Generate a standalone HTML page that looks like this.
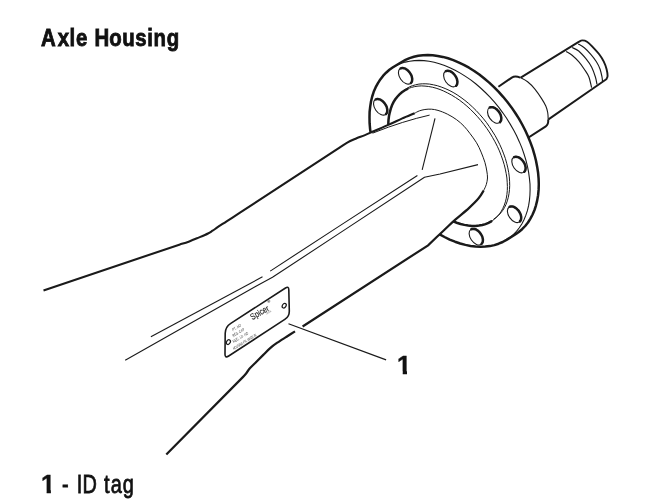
<!DOCTYPE html>
<html lang="en"><head><meta charset="utf-8"><title>Axle Housing</title>
<style>
html,body{margin:0;padding:0;background:#fff;}
body{width:647px;height:504px;overflow:hidden;position:relative;}
svg{display:block;position:absolute;left:0;top:0;will-change:transform;}
text{font-family:"Liberation Sans",sans-serif;font-kerning:none;}
.t{fill:#111;}
</style></head><body>
<svg width="647" height="504" viewBox="0 0 647 504">
<rect width="647" height="504" fill="#fff"/>
<path d="M520.7 77.6L578.7 41.9C579.3 41.6 581.0 40.4 582.4 40.4C583.8 40.4 585.3 40.6 587.0 41.7C588.7 42.8 590.6 44.7 592.6 46.8C594.6 48.9 597.3 51.8 599.2 54.3C601.1 56.8 602.6 59.2 603.8 61.7C605.0 64.2 606.0 66.8 606.6 69.2C607.2 71.6 607.7 74.3 607.6 76.0C607.5 77.7 606.5 78.8 606.3 79.3L548.1 119.6" fill="none" stroke="#1a1a1a" stroke-width="1.90" stroke-linejoin="round"/>
<path d="M566.1 51.5C567.1 52.1 570.0 53.5 572.1 55.2C574.2 56.9 576.7 59.4 578.7 61.7C580.7 64.0 582.6 66.7 584.3 69.2C586.0 71.8 587.7 73.9 588.9 77.0C590.1 80.1 591.1 85.8 591.6 87.6" fill="none" stroke="#1a1a1a" stroke-width="1.15" />
<path d="M572.1 47.5C573.2 48.1 576.4 49.1 578.7 51.0C581.0 52.9 583.9 56.2 586.1 58.9C588.3 61.6 590.2 64.3 591.7 67.3C593.2 70.3 594.5 74.2 595.4 77.0C596.3 79.8 596.7 83.2 597.0 84.4" fill="none" stroke="#1a1a1a" stroke-width="1.15" />
<path d="M578.2 44.0C579.2 44.6 582.2 46.0 584.3 47.7C586.4 49.4 588.8 52.0 590.8 54.3C592.8 56.6 594.8 59.2 596.4 61.7C598.0 64.2 599.2 66.7 600.1 69.2C601.0 71.8 601.6 75.0 602.0 77.0C602.4 79.0 602.4 80.5 602.5 81.2" fill="none" stroke="#1a1a1a" stroke-width="1.15" />
<path d="M490 92.6L511.8 77.6Q515.1 75.6 520.2 77.6L520.2 77.6C521.4 78.3 525.1 79.8 527.6 81.8C530.1 83.8 532.8 86.5 535.1 89.3C537.4 92.1 539.8 95.8 541.6 98.6C543.4 101.4 544.8 103.7 545.8 106.0C546.8 108.3 547.3 110.3 547.7 112.5C548.1 114.7 548.1 118.2 548.2 119.4L548.2 119.4Q548.6 124.6 545.8 126.3L520 143Z" fill="#fff" stroke="none" stroke-width="0.00" />
<path d="M520.2 77.6C521.4 78.3 525.1 79.8 527.6 81.8C530.1 83.8 532.8 86.5 535.1 89.3C537.4 92.1 539.8 95.8 541.6 98.6C543.4 101.4 544.8 103.7 545.8 106.0C546.8 108.3 547.3 110.3 547.7 112.5C548.1 114.7 548.1 118.2 548.2 119.4" fill="none" stroke="#1a1a1a" stroke-width="1.10" />
<path d="M498.4 86.8L511.8 77.6Q515.1 75.6 520.2 77.6" fill="none" stroke="#1a1a1a" stroke-width="2.00" stroke-linejoin="round"/>
<path d="M548.2 119.4Q548.6 124.6 545.8 126.3L520 143" fill="none" stroke="#1a1a1a" stroke-width="2.00" stroke-linejoin="round"/>
<path d="M401.7 62.0L405.5 59.9L409.6 58.1L413.9 56.8L418.3 55.8L423.0 55.2L427.8 55.0L432.7 55.3L437.7 55.9L442.8 56.9L448.0 58.3L453.3 60.1L458.5 62.3L463.8 64.8L469.0 67.7L474.2 71.0L479.3 74.6L484.3 78.5L489.2 82.6L494.0 87.1L498.7 91.9L503.1 96.8L507.4 102.0L511.5 107.4L515.3 113.0L518.9 118.7L522.2 124.5L525.3 130.5L528.0 136.5L530.5 142.6L532.7 148.7L534.5 154.8L536.0 160.8L537.2 166.9L538.1 172.8L538.6 178.6L538.8 184.3L538.6 189.9L538.1 195.2L537.2 200.4L536.0 205.3L534.5 210.0L532.6 214.5L530.4 218.6L528.0 222.5L525.2 226.0L522.1 229.2L518.8 232.0L515.2 234.5L506.5 239.9L502.7 242.0L498.6 243.7L494.4 245.1L489.9 246.1L485.3 246.6L480.5 246.8L475.5 246.6L470.5 246.0L465.4 244.9L460.2 243.5L455.0 241.7L449.7 239.6L444.5 237.0L439.2 234.1L434.0 230.9L428.9 227.3L423.9 223.4L419.0 219.2L414.2 214.7L409.6 210.0L405.1 205.0L400.8 199.8L396.8 194.4L392.9 188.9L389.3 183.2L386.0 177.3L383.0 171.4L380.2 165.4L377.7 159.3L375.5 153.2L373.7 147.1L372.2 141.0L371.0 135.0L370.1 129.1L369.6 123.2L369.5 117.5L369.6 112.0L370.2 106.6L371.0 101.5L372.2 96.5L373.7 91.8L375.6 87.4L377.8 83.3L380.3 79.4L383.0 75.9L386.1 72.7L389.4 69.8L393.0 67.3Z" fill="#fff" stroke="#1a1a1a" stroke-width="2.50" stroke-linejoin="round"/>
<path d="M393.0 67.3L396.9 65.2L400.9 63.5L405.2 62.1L409.7 61.2L414.3 60.6L419.1 60.4L424.0 60.6L429.1 61.3L434.2 62.3L439.4 63.7L444.6 65.5L449.9 67.7L455.1 70.2L460.3 73.1L465.5 76.4L470.7 79.9L475.7 83.8L480.6 88.0L485.4 92.5L490.0 97.2L494.5 102.2L498.8 107.4L502.8 112.8L506.6 118.3L510.2 124.1L513.6 129.9L516.6 135.8L519.4 141.9L521.9 147.9L524.0 154.0L525.9 160.1L527.4 166.2L528.6 172.2L529.4 178.1L530.0 184.0L530.1 189.7L529.9 195.2L529.4 200.6L528.6 205.7L527.4 210.7L525.8 215.4L524.0 219.8L521.8 224.0L519.3 227.8L516.5 231.3L513.5 234.5L510.1 237.4L506.5 239.9" fill="none" stroke="#1a1a1a" stroke-width="1.10" />
<path d="M492.7 220.5L490.0 222.1L487.2 223.5L484.2 224.5L481.0 225.3L477.7 225.8L474.3 226.0L470.7 225.8L467.1 225.4L463.4 224.7L459.6 223.7L455.7 222.4L451.9 220.8L448.0 218.9L444.1 216.8L440.2 214.4L436.3 211.8L432.5 208.9L428.8 205.8L425.2 202.5L421.6 198.9L418.2 195.2L414.9 191.4L411.7 187.3L408.7 183.2L405.8 178.9L403.2 174.5L400.7 170.1L398.4 165.6L396.3 161.0L394.5 156.4L392.9 151.8L391.5 147.3L390.4 142.8L389.5 138.3L388.8 133.9L388.5 129.6L388.3 125.4L388.4 121.4L388.8 117.4L389.4 113.7L390.3 110.1L391.4 106.8L392.8 103.6L394.4 100.7L396.2 98.0L398.3 95.6L400.6 93.4L403.0 91.4L405.7 89.8L408.5 88.4L411.5 87.4L414.7 86.6L418.0 86.1L421.4 85.9L425.0 86.1L428.6 86.5L432.3 87.2L436.1 88.2L440.0 89.5L443.8 91.1L447.7 93.0L451.6 95.1L455.5 97.5L459.4 100.1L463.2 103.0L466.9 106.1L470.5 109.4L474.1 113.0L477.5 116.7L480.8 120.5L484.0 124.6L487.0 128.7L489.9 133.0L492.5 137.4L495.0 141.8L497.3 146.3L499.4 150.9L501.2 155.5L502.8 160.1L504.2 164.6L505.3 169.1L506.2 173.6L506.9 178.0L507.2 182.3L507.4 186.5L507.3 190.5L506.9 194.5L506.3 198.2L505.4 201.8L504.3 205.1L502.9 208.3L501.3 211.2L499.5 213.9L497.4 216.3L495.1 218.5L492.7 220.5" fill="none" stroke="#1a1a1a" stroke-width="1.00" />
<path d="M404.0 90.3L406.6 88.5L409.4 86.9L412.4 85.7L415.6 84.8L418.9 84.1L422.4 83.8L425.9 83.8L429.6 84.1L433.4 84.8L437.3 85.7L441.2 87.0L445.1 88.5L449.1 90.3L453.1 92.4L457.1 94.8L461.0 97.5L464.9 100.4L468.7 103.5L472.4 106.9L476.1 110.5L479.6 114.3L483.0 118.2L486.3 122.3L489.3 126.6L492.2 131.0L495.0 135.4L497.5 140.0L499.8 144.6L501.9 149.3L503.7 153.9L505.4 158.6L506.7 163.3L507.8 167.9L508.7 172.5L509.3 176.9L509.6 181.3L509.7 185.5L509.5 189.6L509.0 193.6L508.3 197.3L507.3 200.9L506.1 204.3L504.6 207.4L502.8 210.3L500.8 212.9L498.6 215.3L496.2 217.4L493.6 219.2" fill="none" stroke="#1a1a1a" stroke-width="1.00" />
<path d="M491.3 221.4L488.5 222.9L485.5 224.1L482.3 225.0L479.0 225.6L475.5 225.9L471.9 225.9L468.2 225.6L464.4 224.9L460.6 224.0L456.7 222.7L452.7 221.2L448.7 219.3L444.8 217.2L440.8 214.8L436.9 212.1L433.0 209.2L429.1 206.1L425.4 202.7L421.8 199.1L418.3 195.3L414.9 191.4L411.6 187.2L408.6 183.0L405.6 178.6L402.9 174.1L400.4 169.6L398.1 164.9L396.0 160.3L394.2 155.6L392.6 150.9L391.2 146.3L390.1 141.7L389.3 137.1L388.7 132.6L388.4 128.3L388.3 124.0L388.5 119.9L389.0 116.0L389.8 112.3L390.8 108.7L392.0 105.3L393.5 102.2L395.3 99.3L397.3 96.7L399.5 94.4L401.9 92.3L404.5 90.5L407.4 89.0" fill="none" stroke="#1a1a1a" stroke-width="2.50" stroke-linecap="round"/>
<ellipse cx="405.4" cy="76.0" rx="9.1" ry="5.7" transform="rotate(55.20 405.4 76.0)" fill="#fff" stroke="#1a1a1a" stroke-width="1.1"/>
<path d="M400.7 68.4L401.4 68.2L402.1 68.1L402.8 68.1L403.6 68.2L404.5 68.4L405.3 68.7L406.1 69.2L407.0 69.8L407.8 70.4L408.5 71.2L409.3 72.0L409.9 72.9L410.5 73.8L411.0 74.7L411.5 75.7L411.8 76.7L412.0 77.7L412.2 78.6L412.2 79.5L412.1 80.4L412.0 81.2L411.7 81.9L411.3 82.5L410.9 83.0" fill="none" stroke="#1a1a1a" stroke-width="2.50" stroke-linecap="round"/>
<ellipse cx="380.5" cy="107.0" rx="9.1" ry="5.7" transform="rotate(55.20 380.5 107.0)" fill="#fff" stroke="#1a1a1a" stroke-width="1.1"/>
<path d="M375.8 99.4L376.5 99.2L377.2 99.1L377.9 99.1L378.7 99.2L379.6 99.4L380.4 99.7L381.2 100.2L382.1 100.8L382.9 101.4L383.6 102.2L384.4 103.0L385.0 103.9L385.6 104.8L386.1 105.7L386.6 106.7L386.9 107.7L387.1 108.7L387.3 109.6L387.3 110.5L387.2 111.4L387.1 112.2L386.8 112.9L386.4 113.5L386.0 114.0" fill="none" stroke="#1a1a1a" stroke-width="2.50" stroke-linecap="round"/>
<ellipse cx="450.6" cy="78.7" rx="9.1" ry="5.7" transform="rotate(55.20 450.6 78.7)" fill="#fff" stroke="#1a1a1a" stroke-width="1.1"/>
<path d="M445.9 71.1L446.6 70.9L447.3 70.8L448.0 70.8L448.8 70.9L449.7 71.1L450.5 71.4L451.3 71.9L452.2 72.5L453.0 73.1L453.7 73.9L454.5 74.7L455.1 75.6L455.7 76.5L456.2 77.4L456.7 78.4L457.0 79.4L457.2 80.4L457.4 81.3L457.4 82.2L457.3 83.1L457.2 83.9L456.9 84.6L456.5 85.2L456.1 85.7" fill="none" stroke="#1a1a1a" stroke-width="2.50" stroke-linecap="round"/>
<ellipse cx="494.5" cy="115.1" rx="9.1" ry="5.7" transform="rotate(55.20 494.5 115.1)" fill="#fff" stroke="#1a1a1a" stroke-width="1.1"/>
<path d="M489.8 107.5L490.5 107.3L491.2 107.2L491.9 107.2L492.7 107.3L493.6 107.5L494.4 107.8L495.2 108.3L496.1 108.9L496.9 109.5L497.6 110.3L498.4 111.1L499.0 112.0L499.6 112.9L500.1 113.8L500.6 114.8L500.9 115.8L501.1 116.8L501.3 117.7L501.3 118.6L501.2 119.5L501.1 120.3L500.8 121.0L500.4 121.6L500.0 122.1" fill="none" stroke="#1a1a1a" stroke-width="2.50" stroke-linecap="round"/>
<ellipse cx="518.8" cy="164.7" rx="9.1" ry="5.7" transform="rotate(55.20 518.8 164.7)" fill="#fff" stroke="#1a1a1a" stroke-width="1.1"/>
<path d="M514.1 157.1L514.8 156.9L515.5 156.8L516.2 156.8L517.0 156.9L517.9 157.1L518.7 157.4L519.5 157.9L520.4 158.5L521.2 159.1L521.9 159.9L522.7 160.7L523.3 161.6L523.9 162.5L524.4 163.4L524.9 164.4L525.2 165.4L525.4 166.4L525.6 167.3L525.6 168.2L525.5 169.1L525.4 169.9L525.1 170.6L524.7 171.2L524.3 171.7" fill="none" stroke="#1a1a1a" stroke-width="2.50" stroke-linecap="round"/>
<ellipse cx="514.4" cy="214.4" rx="9.1" ry="5.7" transform="rotate(55.20 514.4 214.4)" fill="#fff" stroke="#1a1a1a" stroke-width="1.1"/>
<path d="M509.7 206.8L510.4 206.6L511.1 206.5L511.8 206.5L512.6 206.6L513.5 206.8L514.3 207.1L515.1 207.6L516.0 208.2L516.8 208.8L517.5 209.6L518.3 210.4L518.9 211.3L519.5 212.2L520.0 213.1L520.5 214.1L520.8 215.1L521.0 216.1L521.2 217.0L521.2 217.9L521.1 218.8L521.0 219.6L520.7 220.3L520.3 220.9L519.9 221.4" fill="none" stroke="#1a1a1a" stroke-width="2.50" stroke-linecap="round"/>
<ellipse cx="476.1" cy="236.8" rx="9.1" ry="5.7" transform="rotate(55.20 476.1 236.8)" fill="#fff" stroke="#1a1a1a" stroke-width="1.1"/>
<path d="M471.4 229.2L472.1 229.0L472.8 228.9L473.5 228.9L474.3 229.0L475.2 229.2L476.0 229.5L476.8 230.0L477.7 230.6L478.5 231.2L479.2 232.0L480.0 232.8L480.6 233.7L481.2 234.6L481.7 235.5L482.2 236.5L482.5 237.5L482.7 238.5L482.9 239.4L482.9 240.3L482.8 241.2L482.7 242.0L482.4 242.7L482.0 243.3L481.6 243.8" fill="none" stroke="#1a1a1a" stroke-width="2.50" stroke-linecap="round"/>
<path d="M43.5 290.6L180 244.4C181.6 243.9 186.2 242.5 189.3 241.4C192.4 240.3 195.6 238.9 198.7 237.6C201.8 236.3 205.7 234.7 208.0 233.5C210.3 232.3 211.0 231.7 212.6 230.7C214.2 229.7 215.0 229.0 217.3 227.4C219.6 225.8 222.8 223.8 226.6 221.3C230.4 218.9 237.8 214.1 240.0 212.7L338 148.6C339.6 147.6 344.2 144.3 347.3 142.6C350.4 140.9 353.7 139.6 356.6 138.3C359.6 137.1 362.1 136.3 365.0 135.1C367.9 133.9 370.4 132.7 374.3 131.0C378.2 129.3 383.6 127.0 388.3 124.9C393.0 122.8 397.9 120.4 402.3 118.4C406.7 116.5 412.6 114.1 414.7 113.2L414.7 113.2C415.5 112.8 417.6 111.5 419.3 110.9C421.0 110.3 422.9 109.8 424.9 109.5C426.9 109.2 429.3 109.0 431.5 109.2C433.7 109.4 435.4 109.6 438.0 110.4C440.6 111.2 444.2 112.5 447.3 114.1C450.4 115.6 453.8 117.7 456.6 119.7C459.4 121.7 461.9 124.0 464.1 126.3C466.3 128.6 467.8 130.7 469.9 133.4C472.0 136.1 474.6 139.6 476.5 142.7C478.4 145.8 479.7 148.8 481.1 152.1C482.5 155.4 483.9 159.2 484.9 162.3C485.8 165.5 486.4 168.4 486.8 171.0C487.2 173.6 487.6 175.8 487.5 178.0C487.4 180.2 486.9 182.4 486.3 184.5C485.7 186.6 484.2 189.3 483.8 190.3L483.8 190.3C482.9 191.6 481.1 195.3 478.6 198.3C476.1 201.3 472.8 204.5 468.9 208.1C465.0 211.7 459.3 216.1 455.0 219.9C450.7 223.7 447.7 226.8 443.2 231.0C438.7 235.2 430.6 242.9 428.1 245.3L302.6 326.5L295.0 331.4C293.6 332.3 288.0 335.8 286.6 336.7C285.2 337.6 288.2 335.7 286.6 336.7C285.1 337.7 280.1 340.8 277.3 342.7C274.5 344.6 272.2 346.3 269.9 348.3C267.6 350.3 265.5 352.7 263.3 354.9C261.1 357.1 258.9 359.3 256.7 361.5C254.5 363.7 251.9 366.1 250.1 368.1C248.3 370.1 247.1 372.2 245.9 373.7C244.7 375.2 243.6 376.4 243.1 376.9L166.3 454.5Z" fill="#fff" stroke="none" stroke-width="0.00" />
<path d="M43.5 290.6L180 244.4C181.6 243.9 186.2 242.5 189.3 241.4C192.4 240.3 195.6 238.9 198.7 237.6C201.8 236.3 205.7 234.7 208.0 233.5C210.3 232.3 211.0 231.7 212.6 230.7C214.2 229.7 215.0 229.0 217.3 227.4C219.6 225.8 222.8 223.8 226.6 221.3C230.4 218.9 237.8 214.1 240.0 212.7L338 148.6C339.6 147.6 344.2 144.3 347.3 142.6C350.4 140.9 353.7 139.6 356.6 138.3C359.6 137.1 362.1 136.3 365.0 135.1C367.9 133.9 370.4 132.7 374.3 131.0C378.2 129.3 383.6 127.0 388.3 124.9C393.0 122.8 397.9 120.4 402.3 118.4C406.7 116.5 412.6 114.1 414.7 113.2" fill="none" stroke="#1a1a1a" stroke-width="2.10" stroke-linecap="butt"/>
<path d="M414.7 113.2C415.5 112.8 417.6 111.5 419.3 110.9C421.0 110.3 422.9 109.8 424.9 109.5C426.9 109.2 429.3 109.0 431.5 109.2C433.7 109.4 435.4 109.6 438.0 110.4C440.6 111.2 444.2 112.5 447.3 114.1C450.4 115.6 453.8 117.7 456.6 119.7C459.4 121.7 461.9 124.0 464.1 126.3C466.3 128.6 467.8 130.7 469.9 133.4C472.0 136.1 474.6 139.6 476.5 142.7C478.4 145.8 479.7 148.8 481.1 152.1C482.5 155.4 483.9 159.2 484.9 162.3C485.8 165.5 486.4 168.4 486.8 171.0C487.2 173.6 487.6 175.8 487.5 178.0C487.4 180.2 486.9 182.4 486.3 184.5C485.7 186.6 484.2 189.3 483.8 190.3" fill="none" stroke="#1a1a1a" stroke-width="1.00" />
<path d="M483.8 190.3C482.9 191.6 481.1 195.3 478.6 198.3C476.1 201.3 472.8 204.5 468.9 208.1C465.0 211.7 459.3 216.1 455.0 219.9C450.7 223.7 447.7 226.8 443.2 231.0C438.7 235.2 430.6 242.9 428.1 245.3L302.6 326.5M295.0 331.4C293.6 332.3 288.0 335.8 286.6 336.7C285.2 337.6 288.2 335.7 286.6 336.7C285.1 337.7 280.1 340.8 277.3 342.7C274.5 344.6 272.2 346.3 269.9 348.3C267.6 350.3 265.5 352.7 263.3 354.9C261.1 357.1 258.9 359.3 256.7 361.5C254.5 363.7 251.9 366.1 250.1 368.1C248.3 370.1 247.1 372.2 245.9 373.7C244.7 375.2 243.6 376.4 243.1 376.9L166.3 454.5" fill="none" stroke="#1a1a1a" stroke-width="2.20" />
<path d="M372.5 133.2L388.3 127.2L402.3 122.5L416.3 118.4L429.6 115.1" fill="none" stroke="#1a1a1a" stroke-width="1.00" stroke-linejoin="round"/>
<path d="M435 118.3L422.2 169.8" fill="none" stroke="#1a1a1a" stroke-width="1.10" />
<path d="M478 164.6L440 174L424.5 177.3L340 232.9L272.5 277.3L255.5 286.6L125.2 360.3" fill="none" stroke="#1a1a1a" stroke-width="1.10" stroke-linejoin="round"/>
<path d="M417.4 175.5L340 225.6L270.2 271.1" fill="none" stroke="#1a1a1a" stroke-width="1.10" />
<path d="M262.5 276.8L150.9 336.7" fill="none" stroke="#1a1a1a" stroke-width="1.10" />
<path d="M225.2 333.3Q225.3 326.8 230.8 323.3L285.5 288.0Q288.7 285.9 288.8 289.7L289.3 310.9Q289.4 316.4 284.8 319.4L228.7 356.0Q224.9 358.5 225.0 354.0Z" fill="#fff" stroke="#1a1a1a" stroke-width="1.60" />
<ellipse cx="228.4" cy="342.1" rx="2.5" ry="1.8" transform="rotate(-58.00 228.4 342.1)" fill="#fff" stroke="#1a1a1a" stroke-width="1.2"/>
<ellipse cx="284.2" cy="305.7" rx="2.5" ry="1.8" transform="rotate(-58.00 284.2 305.7)" fill="#fff" stroke="#1a1a1a" stroke-width="1.2"/>
<text transform="translate(252.3,320.2) rotate(-29.6)" x="0" y="0.00" font-size="8.8" textLength="20.2" lengthAdjust="spacingAndGlyphs" fill="#1c1c1c" stroke="#1c1c1c" stroke-width="0.15">Spicer</text>
<text transform="translate(267.3,302.2) rotate(-29.7)" x="0" y="1.20" font-size="3.8" textLength="3.2" lengthAdjust="spacingAndGlyphs" fill="#333" font-weight="bold">®</text>
<text transform="translate(266.6,314.6) rotate(-29.4)" x="0" y="0.00" font-size="3.0" textLength="5.5" lengthAdjust="spacingAndGlyphs" fill="#777" >DANA</text>
<text transform="translate(232.2,330.0) rotate(-30.9)" x="0" y="1.50" font-size="4.1" textLength="10.1" lengthAdjust="spacingAndGlyphs" fill="#444" font-style="italic">PT. NO</text>
<text transform="translate(232.5,335.9) rotate(-31.3)" x="0" y="1.50" font-size="4.1" textLength="13.5" lengthAdjust="spacingAndGlyphs" fill="#444" font-style="italic">REG. CAP</text>
<text transform="translate(232.8,341.8) rotate(-30.9)" x="0" y="1.50" font-size="4.1" textLength="17.7" lengthAdjust="spacingAndGlyphs" fill="#444" font-style="italic">REG. I.D. NO</text>
<text transform="translate(233.1,348.6) rotate(-31.3)" x="0" y="1.50" font-size="4.1" textLength="26.8" lengthAdjust="spacingAndGlyphs" fill="#444" font-style="italic">HOUSING PN. MADE IN</text>
<path d="M288.5 323.7L386.1 359.9" fill="none" stroke="#1a1a1a" stroke-width="1.20" />
<defs><clipPath id="nofoot"><path d="M-2 -23H10.46V2H6.01V-3.31H-2Z"/></clipPath></defs>
<text class="t" transform="translate(0,46.45) scale(0.8225,1)" x="50.00 70.19 84.50 92.55 106.35 114.76 132.79 148.76 164.36 179.11 186.72 202.89" y="0" font-size="24.8" font-weight="bold" stroke="#111" stroke-width="0.80" vector-effect="non-scaling-stroke">Axle Housing</text>
<text class="t" transform="translate(397.04,374.20) scale(0.950,1)" font-size="26.6" font-weight="bold" stroke="#111" stroke-width="0.40" clip-path="url(#nofoot)">1</text>
<g>
<text class="t" transform="translate(40.94,493.30) scale(0.950,1)" font-size="26.6" font-weight="bold" stroke="#111" stroke-width="0.40" clip-path="url(#nofoot)">1</text>
<text class="t" transform="translate(0,492.90) scale(0.7662,1)" x="80.96 89.62 100.02 107.69 126.47 135.74 144.40 160.31" y="0" font-size="26.0" font-weight="normal" stroke="#111" stroke-width="0.70" vector-effect="non-scaling-stroke">- ID tag</text>
</g>
</svg>
</body></html>
